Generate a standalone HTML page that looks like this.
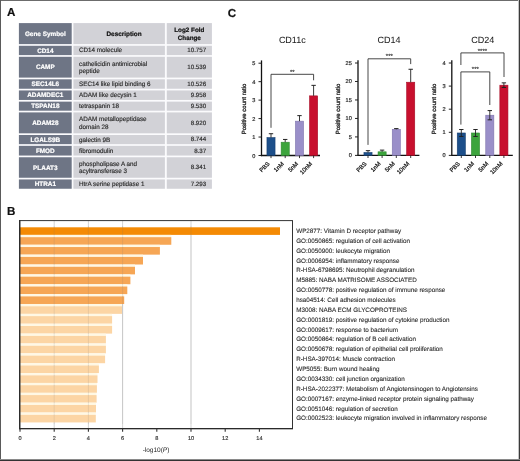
<!DOCTYPE html>
<html><head><meta charset="utf-8"><style>
html,body{margin:0;padding:0;background:#fff;}
body{width:520px;height:461px;overflow:hidden;position:relative;font-family:"Liberation Sans", sans-serif;}
svg{position:absolute;left:0;top:0;filter:blur(0.45px);}
svg text{font-family:"Liberation Sans", sans-serif;text-rendering:geometricPrecision;}
.frame{position:absolute;left:0;top:0;width:520px;height:461px;box-sizing:border-box;border:1px solid #555;border-bottom-width:1.5px;}
</style></head><body>
<svg width="520" height="461" viewBox="0 0 520 461">
<text x="6.9" y="16.3" font-size="11.6" text-anchor="start" font-weight="bold" fill="#111" stroke="#111" stroke-width="0.2" >A</text>
<text x="227.8" y="16.6" font-size="11.6" text-anchor="start" font-weight="bold" fill="#111" stroke="#111" stroke-width="0.2" >C</text>
<text x="6.9" y="214.7" font-size="11.6" text-anchor="start" font-weight="bold" fill="#111" stroke="#111" stroke-width="0.2" >B</text>
<rect x="18.90" y="23.10" width="193.00" height="165.65" fill="#fbfbfd" />
<rect x="18.90" y="23.10" width="52.80" height="21.00" fill="#6e7585" />
<rect x="73.40" y="23.10" width="91.50" height="21.00" fill="#d2d2d7" />
<rect x="166.80" y="23.10" width="45.10" height="21.00" fill="#d2d2d7" />
<text x="45.3" y="35.6" font-size="6.4" text-anchor="middle" font-weight="bold" fill="#fff" stroke="#fff" stroke-width="0.2" >Gene Symbol</text>
<text x="106.5" y="35.8" font-size="6.4" text-anchor="start" font-weight="bold" fill="#111" stroke="#111" stroke-width="0.2" >Description</text>
<text x="189.3" y="32.3" font-size="6.3" text-anchor="middle" font-weight="bold" fill="#111" stroke="#111" stroke-width="0.2" >Log2 Fold</text>
<text x="189.3" y="40.3" font-size="6.3" text-anchor="middle" font-weight="bold" fill="#111" stroke="#111" stroke-width="0.2" >Change</text>
<rect x="18.90" y="45.80" width="52.80" height="9.30" fill="#6e7585" />
<rect x="73.40" y="45.80" width="91.50" height="9.30" fill="#d2d2d7" />
<rect x="166.80" y="45.80" width="45.10" height="9.30" fill="#d2d2d7" />
<text x="45.3" y="52.650000000000006" font-size="6.4" text-anchor="middle" font-weight="bold" fill="#fff" stroke="#fff" stroke-width="0.2" >CD14</text>
<text x="79.0" y="52.45" font-size="6.3" text-anchor="start" font-weight="normal" fill="#2a2a2a" stroke="#2a2a2a" stroke-width="0.15" >CD14 molecule</text>
<text x="206.2" y="52.35" font-size="6.2" text-anchor="end" font-weight="normal" fill="#2a2a2a" stroke="#2a2a2a" stroke-width="0.15" >10.757</text>
<rect x="18.90" y="56.80" width="52.80" height="20.80" fill="#6e7585" />
<rect x="73.40" y="56.80" width="91.50" height="20.80" fill="#d2d2d7" />
<rect x="166.80" y="56.80" width="45.10" height="20.80" fill="#d2d2d7" />
<text x="45.3" y="69.4" font-size="6.4" text-anchor="middle" font-weight="bold" fill="#fff" stroke="#fff" stroke-width="0.2" >CAMP</text>
<text x="79.0" y="65.7" font-size="6.3" text-anchor="start" font-weight="normal" fill="#2a2a2a" stroke="#2a2a2a" stroke-width="0.15" >cathelicidin antimicrobial</text>
<text x="79.0" y="73.10000000000001" font-size="6.3" text-anchor="start" font-weight="normal" fill="#2a2a2a" stroke="#2a2a2a" stroke-width="0.15" >peptide</text>
<text x="206.2" y="69.10000000000001" font-size="6.2" text-anchor="end" font-weight="normal" fill="#2a2a2a" stroke="#2a2a2a" stroke-width="0.15" >10.539</text>
<rect x="18.90" y="79.30" width="52.80" height="9.45" fill="#6e7585" />
<rect x="73.40" y="79.30" width="91.50" height="9.45" fill="#d2d2d7" />
<rect x="166.80" y="79.30" width="45.10" height="9.45" fill="#d2d2d7" />
<text x="45.3" y="86.22500000000001" font-size="6.4" text-anchor="middle" font-weight="bold" fill="#fff" stroke="#fff" stroke-width="0.2" >SEC14L6</text>
<text x="79.0" y="86.025" font-size="6.3" text-anchor="start" font-weight="normal" fill="#2a2a2a" stroke="#2a2a2a" stroke-width="0.15" >SEC14 like lipid binding 6</text>
<text x="206.2" y="85.92500000000001" font-size="6.2" text-anchor="end" font-weight="normal" fill="#2a2a2a" stroke="#2a2a2a" stroke-width="0.15" >10.526</text>
<rect x="18.90" y="90.45" width="52.80" height="9.50" fill="#6e7585" />
<rect x="73.40" y="90.45" width="91.50" height="9.50" fill="#d2d2d7" />
<rect x="166.80" y="90.45" width="45.10" height="9.50" fill="#d2d2d7" />
<text x="45.3" y="97.39999999999999" font-size="6.4" text-anchor="middle" font-weight="bold" fill="#fff" stroke="#fff" stroke-width="0.2" >ADAMDEC1</text>
<text x="79.0" y="97.19999999999999" font-size="6.3" text-anchor="start" font-weight="normal" fill="#2a2a2a" stroke="#2a2a2a" stroke-width="0.15" >ADAM like decysin 1</text>
<text x="206.2" y="97.1" font-size="6.2" text-anchor="end" font-weight="normal" fill="#2a2a2a" stroke="#2a2a2a" stroke-width="0.15" >9.958</text>
<rect x="18.90" y="101.65" width="52.80" height="9.05" fill="#6e7585" />
<rect x="73.40" y="101.65" width="91.50" height="9.05" fill="#d2d2d7" />
<rect x="166.80" y="101.65" width="45.10" height="9.05" fill="#d2d2d7" />
<text x="45.3" y="108.375" font-size="6.4" text-anchor="middle" font-weight="bold" fill="#fff" stroke="#fff" stroke-width="0.2" >TSPAN18</text>
<text x="79.0" y="108.175" font-size="6.3" text-anchor="start" font-weight="normal" fill="#2a2a2a" stroke="#2a2a2a" stroke-width="0.15" >tetraspanin 18</text>
<text x="206.2" y="108.075" font-size="6.2" text-anchor="end" font-weight="normal" fill="#2a2a2a" stroke="#2a2a2a" stroke-width="0.15" >9.530</text>
<rect x="18.90" y="112.40" width="52.80" height="20.90" fill="#6e7585" />
<rect x="73.40" y="112.40" width="91.50" height="20.90" fill="#d2d2d7" />
<rect x="166.80" y="112.40" width="45.10" height="20.90" fill="#d2d2d7" />
<text x="45.3" y="125.05" font-size="6.4" text-anchor="middle" font-weight="bold" fill="#fff" stroke="#fff" stroke-width="0.2" >ADAM28</text>
<text x="79.0" y="121.35" font-size="6.3" text-anchor="start" font-weight="normal" fill="#2a2a2a" stroke="#2a2a2a" stroke-width="0.15" >ADAM metallopeptidase</text>
<text x="79.0" y="128.75" font-size="6.3" text-anchor="start" font-weight="normal" fill="#2a2a2a" stroke="#2a2a2a" stroke-width="0.15" >domain 28</text>
<text x="206.2" y="124.75" font-size="6.2" text-anchor="end" font-weight="normal" fill="#2a2a2a" stroke="#2a2a2a" stroke-width="0.15" >8.920</text>
<rect x="18.90" y="135.00" width="52.80" height="9.15" fill="#6e7585" />
<rect x="73.40" y="135.00" width="91.50" height="9.15" fill="#d2d2d7" />
<rect x="166.80" y="135.00" width="45.10" height="9.15" fill="#d2d2d7" />
<text x="45.3" y="141.77499999999998" font-size="6.4" text-anchor="middle" font-weight="bold" fill="#fff" stroke="#fff" stroke-width="0.2" >LGALS9B</text>
<text x="79.0" y="141.575" font-size="6.3" text-anchor="start" font-weight="normal" fill="#2a2a2a" stroke="#2a2a2a" stroke-width="0.15" >galectin 9B</text>
<text x="206.2" y="141.475" font-size="6.2" text-anchor="end" font-weight="normal" fill="#2a2a2a" stroke="#2a2a2a" stroke-width="0.15" >8.744</text>
<rect x="18.90" y="145.85" width="52.80" height="9.70" fill="#6e7585" />
<rect x="73.40" y="145.85" width="91.50" height="9.70" fill="#d2d2d7" />
<rect x="166.80" y="145.85" width="45.10" height="9.70" fill="#d2d2d7" />
<text x="45.3" y="152.89999999999998" font-size="6.4" text-anchor="middle" font-weight="bold" fill="#fff" stroke="#fff" stroke-width="0.2" >FMOD</text>
<text x="79.0" y="152.7" font-size="6.3" text-anchor="start" font-weight="normal" fill="#2a2a2a" stroke="#2a2a2a" stroke-width="0.15" >fibromodulin</text>
<text x="206.2" y="152.6" font-size="6.2" text-anchor="end" font-weight="normal" fill="#2a2a2a" stroke="#2a2a2a" stroke-width="0.15" >8.37</text>
<rect x="18.90" y="157.25" width="52.80" height="20.50" fill="#6e7585" />
<rect x="73.40" y="157.25" width="91.50" height="20.50" fill="#d2d2d7" />
<rect x="166.80" y="157.25" width="45.10" height="20.50" fill="#d2d2d7" />
<text x="45.3" y="169.7" font-size="6.4" text-anchor="middle" font-weight="bold" fill="#fff" stroke="#fff" stroke-width="0.2" >PLAAT3</text>
<text x="79.0" y="166.0" font-size="6.3" text-anchor="start" font-weight="normal" fill="#2a2a2a" stroke="#2a2a2a" stroke-width="0.15" >phospholipase A and</text>
<text x="79.0" y="173.4" font-size="6.3" text-anchor="start" font-weight="normal" fill="#2a2a2a" stroke="#2a2a2a" stroke-width="0.15" >acyltransferase 3</text>
<text x="206.2" y="169.4" font-size="6.2" text-anchor="end" font-weight="normal" fill="#2a2a2a" stroke="#2a2a2a" stroke-width="0.15" >8.341</text>
<rect x="18.90" y="179.45" width="52.80" height="9.30" fill="#6e7585" />
<rect x="73.40" y="179.45" width="91.50" height="9.30" fill="#d2d2d7" />
<rect x="166.80" y="179.45" width="45.10" height="9.30" fill="#d2d2d7" />
<text x="45.3" y="186.29999999999998" font-size="6.4" text-anchor="middle" font-weight="bold" fill="#fff" stroke="#fff" stroke-width="0.2" >HTRA1</text>
<text x="79.0" y="186.1" font-size="6.3" text-anchor="start" font-weight="normal" fill="#2a2a2a" stroke="#2a2a2a" stroke-width="0.15" >HtrA serine peptidase 1</text>
<text x="206.2" y="186.0" font-size="6.2" text-anchor="end" font-weight="normal" fill="#2a2a2a" stroke="#2a2a2a" stroke-width="0.15" >7.293</text>
<text x="292.3" y="43.2" font-size="9.0" text-anchor="middle" font-weight="normal" fill="#222" stroke="#222" stroke-width="0.05" >CD11c</text>
<line x1="261.50" y1="60.40" x2="261.50" y2="156.15" stroke="#111" stroke-width="1.3" />
<line x1="260.85" y1="155.50" x2="320.00" y2="155.50" stroke="#111" stroke-width="1.3" />
<line x1="258.50" y1="155.50" x2="261.50" y2="155.50" stroke="#222" stroke-width="1.0" />
<text x="255.3" y="157.5" font-size="5.6" text-anchor="end" font-weight="normal" fill="#333" stroke="#333" stroke-width="0.22" >0</text>
<line x1="258.50" y1="137.04" x2="261.50" y2="137.04" stroke="#222" stroke-width="1.0" />
<text x="255.3" y="139.04" font-size="5.6" text-anchor="end" font-weight="normal" fill="#333" stroke="#333" stroke-width="0.22" >1</text>
<line x1="258.50" y1="118.58" x2="261.50" y2="118.58" stroke="#222" stroke-width="1.0" />
<text x="255.3" y="120.58" font-size="5.6" text-anchor="end" font-weight="normal" fill="#333" stroke="#333" stroke-width="0.22" >2</text>
<line x1="258.50" y1="100.12" x2="261.50" y2="100.12" stroke="#222" stroke-width="1.0" />
<text x="255.3" y="102.12" font-size="5.6" text-anchor="end" font-weight="normal" fill="#333" stroke="#333" stroke-width="0.22" >3</text>
<line x1="258.50" y1="81.66" x2="261.50" y2="81.66" stroke="#222" stroke-width="1.0" />
<text x="255.3" y="83.66" font-size="5.6" text-anchor="end" font-weight="normal" fill="#333" stroke="#333" stroke-width="0.22" >4</text>
<line x1="258.50" y1="63.20" x2="261.50" y2="63.20" stroke="#222" stroke-width="1.0" />
<text x="255.3" y="65.19999999999999" font-size="5.6" text-anchor="end" font-weight="normal" fill="#333" stroke="#333" stroke-width="0.22" >5</text>
<text x="0" y="0" font-size="6.0" text-anchor="middle" font-weight="normal" fill="#222" stroke="#222" stroke-width="0.3" transform="translate(245.90,109.0) rotate(-90)">Positive count ratio</text>
<rect x="266.95" y="137.59" width="8.10" height="17.91" fill="#1d4f8a" stroke="#173f70" stroke-width="0.6"/>
<line x1="271.00" y1="133.72" x2="271.00" y2="137.59" stroke="#222" stroke-width="0.9" />
<line x1="268.80" y1="133.72" x2="273.20" y2="133.72" stroke="#222" stroke-width="1.0" />
<line x1="271.00" y1="155.50" x2="271.00" y2="158.10" stroke="#222" stroke-width="0.9" />
<text x="0" y="0" font-size="5.9" text-anchor="end" font-weight="normal" fill="#222" stroke="#222" stroke-width="0.25" transform="translate(270.00,164.20) rotate(-45)">PBS</text>
<rect x="281.15" y="142.21" width="8.10" height="13.29" fill="#3ca43c" stroke="#2f8a30" stroke-width="0.6"/>
<line x1="285.20" y1="139.44" x2="285.20" y2="142.21" stroke="#222" stroke-width="0.9" />
<line x1="283.00" y1="139.44" x2="287.40" y2="139.44" stroke="#222" stroke-width="1.0" />
<line x1="285.20" y1="155.50" x2="285.20" y2="158.10" stroke="#222" stroke-width="0.9" />
<text x="0" y="0" font-size="5.9" text-anchor="end" font-weight="normal" fill="#222" stroke="#222" stroke-width="0.25" transform="translate(284.20,164.20) rotate(-45)">1nM</text>
<rect x="295.45" y="121.16" width="8.10" height="34.34" fill="#9a8fc9" stroke="#7f74ad" stroke-width="0.6"/>
<line x1="299.50" y1="115.63" x2="299.50" y2="121.16" stroke="#222" stroke-width="0.9" />
<line x1="297.30" y1="115.63" x2="301.70" y2="115.63" stroke="#222" stroke-width="1.0" />
<line x1="299.50" y1="155.50" x2="299.50" y2="158.10" stroke="#222" stroke-width="0.9" />
<text x="0" y="0" font-size="5.9" text-anchor="end" font-weight="normal" fill="#222" stroke="#222" stroke-width="0.25" transform="translate(298.50,164.20) rotate(-45)">5nM</text>
<rect x="309.55" y="95.87" width="8.10" height="59.63" fill="#c8102e" stroke="#a80d26" stroke-width="0.6"/>
<line x1="313.60" y1="85.35" x2="313.60" y2="95.87" stroke="#222" stroke-width="0.9" />
<line x1="311.40" y1="85.35" x2="315.80" y2="85.35" stroke="#222" stroke-width="1.0" />
<line x1="313.60" y1="155.50" x2="313.60" y2="158.10" stroke="#222" stroke-width="0.9" />
<text x="0" y="0" font-size="5.9" text-anchor="end" font-weight="normal" fill="#222" stroke="#222" stroke-width="0.25" transform="translate(312.60,164.20) rotate(-45)">10nM</text>
<polyline points="271.00,127.80 271.00,74.30 313.60,74.30 313.60,80.30" fill="none" stroke="#333" stroke-width="0.9"/>
<text x="292.3" y="73.8" font-size="6.0" text-anchor="middle" font-weight="normal" fill="#333" stroke="#333" stroke-width="0.15" >**</text>
<text x="389.0" y="43.2" font-size="9.0" text-anchor="middle" font-weight="normal" fill="#222" stroke="#222" stroke-width="0.05" >CD14</text>
<line x1="358.00" y1="60.20" x2="358.00" y2="156.05" stroke="#111" stroke-width="1.3" />
<line x1="357.35" y1="155.40" x2="419.40" y2="155.40" stroke="#111" stroke-width="1.3" />
<line x1="355.00" y1="155.40" x2="358.00" y2="155.40" stroke="#222" stroke-width="1.0" />
<text x="351.8" y="157.4" font-size="5.6" text-anchor="end" font-weight="normal" fill="#333" stroke="#333" stroke-width="0.22" >0</text>
<line x1="355.00" y1="136.92" x2="358.00" y2="136.92" stroke="#222" stroke-width="1.0" />
<text x="351.8" y="138.92000000000002" font-size="5.6" text-anchor="end" font-weight="normal" fill="#333" stroke="#333" stroke-width="0.22" >5</text>
<line x1="355.00" y1="118.44" x2="358.00" y2="118.44" stroke="#222" stroke-width="1.0" />
<text x="351.8" y="120.44" font-size="5.6" text-anchor="end" font-weight="normal" fill="#333" stroke="#333" stroke-width="0.22" >10</text>
<line x1="355.00" y1="99.96" x2="358.00" y2="99.96" stroke="#222" stroke-width="1.0" />
<text x="351.8" y="101.96000000000001" font-size="5.6" text-anchor="end" font-weight="normal" fill="#333" stroke="#333" stroke-width="0.22" >15</text>
<line x1="355.00" y1="81.48" x2="358.00" y2="81.48" stroke="#222" stroke-width="1.0" />
<text x="351.8" y="83.48" font-size="5.6" text-anchor="end" font-weight="normal" fill="#333" stroke="#333" stroke-width="0.22" >20</text>
<line x1="355.00" y1="63.00" x2="358.00" y2="63.00" stroke="#222" stroke-width="1.0" />
<text x="351.8" y="65.0" font-size="5.6" text-anchor="end" font-weight="normal" fill="#333" stroke="#333" stroke-width="0.22" >25</text>
<text x="0" y="0" font-size="6.0" text-anchor="middle" font-weight="normal" fill="#222" stroke="#222" stroke-width="0.3" transform="translate(339.60,109.0) rotate(-90)">Positive count ratio</text>
<rect x="363.95" y="152.52" width="8.10" height="2.88" fill="#1d4f8a" stroke="#173f70" stroke-width="0.6"/>
<line x1="368.00" y1="150.67" x2="368.00" y2="152.52" stroke="#222" stroke-width="0.9" />
<line x1="365.80" y1="150.67" x2="370.20" y2="150.67" stroke="#222" stroke-width="1.0" />
<line x1="368.00" y1="155.40" x2="368.00" y2="158.00" stroke="#222" stroke-width="0.9" />
<text x="0" y="0" font-size="5.9" text-anchor="end" font-weight="normal" fill="#222" stroke="#222" stroke-width="0.25" transform="translate(367.00,164.10) rotate(-45)">PBS</text>
<rect x="378.05" y="151.81" width="8.10" height="3.59" fill="#3ca43c" stroke="#2f8a30" stroke-width="0.6"/>
<line x1="382.10" y1="150.11" x2="382.10" y2="151.81" stroke="#222" stroke-width="0.9" />
<line x1="379.90" y1="150.11" x2="384.30" y2="150.11" stroke="#222" stroke-width="1.0" />
<line x1="382.10" y1="155.40" x2="382.10" y2="158.00" stroke="#222" stroke-width="0.9" />
<text x="0" y="0" font-size="5.9" text-anchor="end" font-weight="normal" fill="#222" stroke="#222" stroke-width="0.25" transform="translate(381.10,164.10) rotate(-45)">1nM</text>
<rect x="392.25" y="129.34" width="8.10" height="26.06" fill="#9a8fc9" stroke="#7f74ad" stroke-width="0.6"/>
<line x1="396.30" y1="128.60" x2="396.30" y2="129.34" stroke="#222" stroke-width="0.9" />
<line x1="394.10" y1="128.60" x2="398.50" y2="128.60" stroke="#222" stroke-width="1.0" />
<line x1="396.30" y1="155.40" x2="396.30" y2="158.00" stroke="#222" stroke-width="0.9" />
<text x="0" y="0" font-size="5.9" text-anchor="end" font-weight="normal" fill="#222" stroke="#222" stroke-width="0.25" transform="translate(395.30,164.10) rotate(-45)">5nM</text>
<rect x="406.65" y="82.22" width="8.10" height="73.18" fill="#c8102e" stroke="#a80d26" stroke-width="0.6"/>
<line x1="410.70" y1="69.28" x2="410.70" y2="82.22" stroke="#222" stroke-width="0.9" />
<line x1="408.50" y1="69.28" x2="412.90" y2="69.28" stroke="#222" stroke-width="1.0" />
<line x1="410.70" y1="155.40" x2="410.70" y2="158.00" stroke="#222" stroke-width="0.9" />
<text x="0" y="0" font-size="5.9" text-anchor="end" font-weight="normal" fill="#222" stroke="#222" stroke-width="0.25" transform="translate(409.70,164.10) rotate(-45)">10nM</text>
<polyline points="368.00,144.90 368.00,58.80 410.70,58.80 410.70,64.10" fill="none" stroke="#333" stroke-width="0.9"/>
<text x="389.35" y="58.3" font-size="6.0" text-anchor="middle" font-weight="normal" fill="#333" stroke="#333" stroke-width="0.15" >***</text>
<text x="482.7" y="43.2" font-size="9.0" text-anchor="middle" font-weight="normal" fill="#222" stroke="#222" stroke-width="0.05" >CD24</text>
<line x1="451.80" y1="60.20" x2="451.80" y2="156.05" stroke="#111" stroke-width="1.3" />
<line x1="451.15" y1="155.40" x2="512.80" y2="155.40" stroke="#111" stroke-width="1.3" />
<line x1="448.80" y1="155.40" x2="451.80" y2="155.40" stroke="#222" stroke-width="1.0" />
<text x="445.6" y="157.4" font-size="5.6" text-anchor="end" font-weight="normal" fill="#333" stroke="#333" stroke-width="0.22" >0</text>
<line x1="448.80" y1="132.30" x2="451.80" y2="132.30" stroke="#222" stroke-width="1.0" />
<text x="445.6" y="134.3" font-size="5.6" text-anchor="end" font-weight="normal" fill="#333" stroke="#333" stroke-width="0.22" >1</text>
<line x1="448.80" y1="109.20" x2="451.80" y2="109.20" stroke="#222" stroke-width="1.0" />
<text x="445.6" y="111.2" font-size="5.6" text-anchor="end" font-weight="normal" fill="#333" stroke="#333" stroke-width="0.22" >2</text>
<line x1="448.80" y1="86.10" x2="451.80" y2="86.10" stroke="#222" stroke-width="1.0" />
<text x="445.6" y="88.1" font-size="5.6" text-anchor="end" font-weight="normal" fill="#333" stroke="#333" stroke-width="0.22" >3</text>
<line x1="448.80" y1="63.00" x2="451.80" y2="63.00" stroke="#222" stroke-width="1.0" />
<text x="445.6" y="65.0" font-size="5.6" text-anchor="end" font-weight="normal" fill="#333" stroke="#333" stroke-width="0.22" >4</text>
<text x="0" y="0" font-size="6.0" text-anchor="middle" font-weight="normal" fill="#222" stroke="#222" stroke-width="0.3" transform="translate(435.60,109.0) rotate(-90)">Positive count ratio</text>
<rect x="457.25" y="132.99" width="8.10" height="22.41" fill="#1d4f8a" stroke="#173f70" stroke-width="0.6"/>
<line x1="461.30" y1="129.53" x2="461.30" y2="136.46" stroke="#222" stroke-width="0.9" />
<line x1="459.10" y1="129.53" x2="463.50" y2="129.53" stroke="#222" stroke-width="1.0" />
<line x1="459.10" y1="136.46" x2="463.50" y2="136.46" stroke="#222" stroke-width="1.0" />
<line x1="461.30" y1="155.40" x2="461.30" y2="158.00" stroke="#222" stroke-width="0.9" />
<text x="0" y="0" font-size="5.9" text-anchor="end" font-weight="normal" fill="#222" stroke="#222" stroke-width="0.25" transform="translate(460.30,164.10) rotate(-45)">PBS</text>
<rect x="471.45" y="132.99" width="8.10" height="22.41" fill="#3ca43c" stroke="#2f8a30" stroke-width="0.6"/>
<line x1="475.50" y1="129.53" x2="475.50" y2="136.46" stroke="#222" stroke-width="0.9" />
<line x1="473.30" y1="129.53" x2="477.70" y2="129.53" stroke="#222" stroke-width="1.0" />
<line x1="473.30" y1="136.46" x2="477.70" y2="136.46" stroke="#222" stroke-width="1.0" />
<line x1="475.50" y1="155.40" x2="475.50" y2="158.00" stroke="#222" stroke-width="0.9" />
<text x="0" y="0" font-size="5.9" text-anchor="end" font-weight="normal" fill="#222" stroke="#222" stroke-width="0.25" transform="translate(474.50,164.10) rotate(-45)">1nM</text>
<rect x="485.75" y="115.21" width="8.10" height="40.19" fill="#9a8fc9" stroke="#7f74ad" stroke-width="0.6"/>
<line x1="489.80" y1="110.59" x2="489.80" y2="119.83" stroke="#222" stroke-width="0.9" />
<line x1="487.60" y1="110.59" x2="492.00" y2="110.59" stroke="#222" stroke-width="1.0" />
<line x1="487.60" y1="119.83" x2="492.00" y2="119.83" stroke="#222" stroke-width="1.0" />
<line x1="489.80" y1="155.40" x2="489.80" y2="158.00" stroke="#222" stroke-width="0.9" />
<text x="0" y="0" font-size="5.9" text-anchor="end" font-weight="normal" fill="#222" stroke="#222" stroke-width="0.25" transform="translate(488.80,164.10) rotate(-45)">5nM</text>
<rect x="499.85" y="85.18" width="8.10" height="70.22" fill="#c8102e" stroke="#a80d26" stroke-width="0.6"/>
<line x1="503.90" y1="82.87" x2="503.90" y2="87.49" stroke="#222" stroke-width="0.9" />
<line x1="501.70" y1="82.87" x2="506.10" y2="82.87" stroke="#222" stroke-width="1.0" />
<line x1="501.70" y1="87.49" x2="506.10" y2="87.49" stroke="#222" stroke-width="1.0" />
<line x1="503.90" y1="155.40" x2="503.90" y2="158.00" stroke="#222" stroke-width="0.9" />
<text x="0" y="0" font-size="5.9" text-anchor="end" font-weight="normal" fill="#222" stroke="#222" stroke-width="0.25" transform="translate(502.90,164.10) rotate(-45)">10nM</text>
<polyline points="460.90,65.00 460.90,52.90 504.00,52.90 504.00,77.00" fill="none" stroke="#333" stroke-width="0.9"/>
<text x="482.45" y="53.0" font-size="6.0" text-anchor="middle" font-weight="normal" fill="#333" stroke="#333" stroke-width="0.15" >****</text>
<polyline points="460.90,124.60 460.90,71.90 489.80,71.90 489.80,105.00" fill="none" stroke="#333" stroke-width="0.9"/>
<text x="475.35" y="71.4" font-size="6.0" text-anchor="middle" font-weight="normal" fill="#333" stroke="#333" stroke-width="0.15" >***</text>
<line x1="54.20" y1="220.60" x2="54.20" y2="428.60" stroke="#c8c8c8" stroke-width="0.8" />
<line x1="88.40" y1="220.60" x2="88.40" y2="428.60" stroke="#c8c8c8" stroke-width="0.8" />
<line x1="122.60" y1="220.60" x2="122.60" y2="428.60" stroke="#c8c8c8" stroke-width="0.8" />
<line x1="191.00" y1="220.60" x2="191.00" y2="428.60" stroke="#c8c8c8" stroke-width="0.8" />
<rect x="20.00" y="227.30" width="260.00" height="7.60" fill="#f48a04" />
<rect x="20.00" y="234.90" width="151.30" height="2.27" fill="#fff8e4" />
<text x="296.2" y="232.9" font-size="6.3" text-anchor="start" font-weight="normal" fill="#2a2a2a" stroke="#2a2a2a" stroke-width="0.1" >WP2877: Vitamin D receptor pathway</text>
<rect x="20.00" y="237.17" width="151.30" height="7.60" fill="#f6a655" />
<rect x="20.00" y="244.77" width="139.90" height="2.27" fill="#fff8e4" />
<text x="296.2" y="242.77" font-size="6.3" text-anchor="start" font-weight="normal" fill="#2a2a2a" stroke="#2a2a2a" stroke-width="0.1" >GO:0050865: regulation of cell activation</text>
<rect x="20.00" y="247.04" width="139.90" height="7.60" fill="#f6a655" />
<rect x="20.00" y="254.64" width="123.00" height="2.27" fill="#fff8e4" />
<text x="296.2" y="252.64000000000001" font-size="6.3" text-anchor="start" font-weight="normal" fill="#2a2a2a" stroke="#2a2a2a" stroke-width="0.1" >GO:0050900: leukocyte migration</text>
<rect x="20.00" y="256.91" width="123.00" height="7.60" fill="#f6a655" />
<rect x="20.00" y="264.51" width="115.00" height="2.27" fill="#fff8e4" />
<text x="296.2" y="262.51000000000005" font-size="6.3" text-anchor="start" font-weight="normal" fill="#2a2a2a" stroke="#2a2a2a" stroke-width="0.1" >GO:0006954: inflammatory response</text>
<rect x="20.00" y="266.78" width="115.00" height="7.60" fill="#f6a655" />
<rect x="20.00" y="274.38" width="110.40" height="2.27" fill="#fff8e4" />
<text x="296.2" y="272.38000000000005" font-size="6.3" text-anchor="start" font-weight="normal" fill="#2a2a2a" stroke="#2a2a2a" stroke-width="0.1" >R-HSA-6798695: Neutrophil degranulation</text>
<rect x="20.00" y="276.65" width="110.40" height="7.60" fill="#f6a655" />
<rect x="20.00" y="284.25" width="107.30" height="2.27" fill="#fff8e4" />
<text x="296.2" y="282.25" font-size="6.3" text-anchor="start" font-weight="normal" fill="#2a2a2a" stroke="#2a2a2a" stroke-width="0.1" >M5885: NABA MATRISOME ASSOCIATED</text>
<rect x="20.00" y="286.52" width="107.30" height="7.60" fill="#f6a655" />
<rect x="20.00" y="294.12" width="104.20" height="2.27" fill="#fff8e4" />
<text x="296.2" y="292.12" font-size="6.3" text-anchor="start" font-weight="normal" fill="#2a2a2a" stroke="#2a2a2a" stroke-width="0.1" >GO:0050778: positive regulation of immune response</text>
<rect x="20.00" y="296.39" width="104.20" height="7.60" fill="#f6a655" />
<rect x="20.00" y="303.99" width="102.00" height="2.27" fill="#fff8e4" />
<text x="296.2" y="301.99" font-size="6.3" text-anchor="start" font-weight="normal" fill="#2a2a2a" stroke="#2a2a2a" stroke-width="0.1" >hsa04514: Cell adhesion molecules</text>
<rect x="20.00" y="306.26" width="102.00" height="7.60" fill="#fcd5a4" />
<rect x="20.00" y="313.86" width="92.10" height="2.27" fill="#fff8e4" />
<text x="296.2" y="311.86" font-size="6.3" text-anchor="start" font-weight="normal" fill="#2a2a2a" stroke="#2a2a2a" stroke-width="0.1" >M3008: NABA ECM GLYCOPROTEINS</text>
<rect x="20.00" y="316.13" width="92.10" height="7.60" fill="#fcd5a4" />
<rect x="20.00" y="323.73" width="92.10" height="2.27" fill="#fff8e4" />
<text x="296.2" y="321.73" font-size="6.3" text-anchor="start" font-weight="normal" fill="#2a2a2a" stroke="#2a2a2a" stroke-width="0.1" >GO:0001819: positive regulation of cytokine production</text>
<rect x="20.00" y="326.00" width="92.10" height="7.60" fill="#fcd5a4" />
<rect x="20.00" y="333.60" width="85.90" height="2.27" fill="#fff8e4" />
<text x="296.2" y="331.6" font-size="6.3" text-anchor="start" font-weight="normal" fill="#2a2a2a" stroke="#2a2a2a" stroke-width="0.1" >GO:0009617: response to bacterium</text>
<rect x="20.00" y="335.87" width="85.90" height="7.60" fill="#fcd5a4" />
<rect x="20.00" y="343.47" width="85.90" height="2.27" fill="#fff8e4" />
<text x="296.2" y="341.47" font-size="6.3" text-anchor="start" font-weight="normal" fill="#2a2a2a" stroke="#2a2a2a" stroke-width="0.1" >GO:0050864: regulation of B cell activation</text>
<rect x="20.00" y="345.74" width="85.90" height="7.60" fill="#fcd5a4" />
<rect x="20.00" y="353.34" width="85.10" height="2.27" fill="#fff8e4" />
<text x="296.2" y="351.34000000000003" font-size="6.3" text-anchor="start" font-weight="normal" fill="#2a2a2a" stroke="#2a2a2a" stroke-width="0.1" >GO:0050678: regulation of epithelial cell proliferation</text>
<rect x="20.00" y="355.61" width="85.10" height="7.60" fill="#fcd5a4" />
<rect x="20.00" y="363.21" width="78.90" height="2.27" fill="#fff8e4" />
<text x="296.2" y="361.21000000000004" font-size="6.3" text-anchor="start" font-weight="normal" fill="#2a2a2a" stroke="#2a2a2a" stroke-width="0.1" >R-HSA-397014: Muscle contraction</text>
<rect x="20.00" y="365.48" width="78.90" height="7.60" fill="#fcd5a4" />
<rect x="20.00" y="373.08" width="77.50" height="2.27" fill="#fff8e4" />
<text x="296.2" y="371.08000000000004" font-size="6.3" text-anchor="start" font-weight="normal" fill="#2a2a2a" stroke="#2a2a2a" stroke-width="0.1" >WP5055: Burn wound healing</text>
<rect x="20.00" y="375.35" width="77.50" height="7.60" fill="#fcd5a4" />
<rect x="20.00" y="382.95" width="76.90" height="2.27" fill="#fff8e4" />
<text x="296.2" y="380.95000000000005" font-size="6.3" text-anchor="start" font-weight="normal" fill="#2a2a2a" stroke="#2a2a2a" stroke-width="0.1" >GO:0034330: cell junction organization</text>
<rect x="20.00" y="385.22" width="76.90" height="7.60" fill="#fcd5a4" />
<rect x="20.00" y="392.82" width="76.60" height="2.27" fill="#fff8e4" />
<text x="296.2" y="390.82000000000005" font-size="6.3" text-anchor="start" font-weight="normal" fill="#2a2a2a" stroke="#2a2a2a" stroke-width="0.1" >R-HSA-2022377: Metabolism of Angiotensinogen to Angiotensins</text>
<rect x="20.00" y="395.09" width="76.60" height="7.60" fill="#fcd5a4" />
<rect x="20.00" y="402.69" width="76.00" height="2.27" fill="#fff8e4" />
<text x="296.2" y="400.69000000000005" font-size="6.3" text-anchor="start" font-weight="normal" fill="#2a2a2a" stroke="#2a2a2a" stroke-width="0.1" >GO:0007167: enzyme-linked receptor protein signaling pathway</text>
<rect x="20.00" y="404.96" width="76.00" height="7.60" fill="#fcd5a4" />
<rect x="20.00" y="412.56" width="75.80" height="2.27" fill="#fff8e4" />
<text x="296.2" y="410.56000000000006" font-size="6.3" text-anchor="start" font-weight="normal" fill="#2a2a2a" stroke="#2a2a2a" stroke-width="0.1" >GO:0051046: regulation of secretion</text>
<rect x="20.00" y="414.83" width="75.80" height="7.60" fill="#fcd5a4" />
<text x="296.2" y="420.43" font-size="6.3" text-anchor="start" font-weight="normal" fill="#2a2a2a" stroke="#2a2a2a" stroke-width="0.1" >GO:0002523: leukocyte migration involved in inflammatory response</text>
<line x1="54.20" y1="226.00" x2="54.20" y2="424.00" stroke="rgba(110,110,110,0.18)" stroke-width="0.8" />
<line x1="88.40" y1="226.00" x2="88.40" y2="424.00" stroke="rgba(110,110,110,0.18)" stroke-width="0.8" />
<line x1="122.60" y1="226.00" x2="122.60" y2="424.00" stroke="rgba(110,110,110,0.18)" stroke-width="0.8" />
<line x1="191.00" y1="226.00" x2="191.00" y2="424.00" stroke="rgba(110,110,110,0.18)" stroke-width="0.8" />
<rect x="19.7" y="220.6" width="272.8" height="208.00000000000003" fill="none" stroke="#333" stroke-width="1"/>
<line x1="19.70" y1="220.10" x2="19.70" y2="429.20" stroke="#2a2a2a" stroke-width="1.3" />
<line x1="19.10" y1="428.60" x2="293.00" y2="428.60" stroke="#2a2a2a" stroke-width="1.3" />
<line x1="20.00" y1="428.60" x2="20.00" y2="431.80" stroke="#333" stroke-width="1.1" />
<text x="20.0" y="440.2" font-size="5.6" text-anchor="middle" font-weight="normal" fill="#333" stroke="#333" stroke-width="0.15" >0</text>
<line x1="54.20" y1="428.60" x2="54.20" y2="431.80" stroke="#333" stroke-width="1.1" />
<text x="54.2" y="440.2" font-size="5.6" text-anchor="middle" font-weight="normal" fill="#333" stroke="#333" stroke-width="0.15" >2</text>
<line x1="88.40" y1="428.60" x2="88.40" y2="431.80" stroke="#333" stroke-width="1.1" />
<text x="88.4" y="440.2" font-size="5.6" text-anchor="middle" font-weight="normal" fill="#333" stroke="#333" stroke-width="0.15" >4</text>
<line x1="122.60" y1="428.60" x2="122.60" y2="431.80" stroke="#333" stroke-width="1.1" />
<text x="122.60000000000001" y="440.2" font-size="5.6" text-anchor="middle" font-weight="normal" fill="#333" stroke="#333" stroke-width="0.15" >6</text>
<line x1="156.80" y1="428.60" x2="156.80" y2="431.80" stroke="#333" stroke-width="1.1" />
<text x="156.8" y="440.2" font-size="5.6" text-anchor="middle" font-weight="normal" fill="#333" stroke="#333" stroke-width="0.15" >8</text>
<line x1="191.00" y1="428.60" x2="191.00" y2="431.80" stroke="#333" stroke-width="1.1" />
<text x="191.0" y="440.2" font-size="5.6" text-anchor="middle" font-weight="normal" fill="#333" stroke="#333" stroke-width="0.15" >10</text>
<line x1="225.20" y1="428.60" x2="225.20" y2="431.80" stroke="#333" stroke-width="1.1" />
<text x="225.20000000000002" y="440.2" font-size="5.6" text-anchor="middle" font-weight="normal" fill="#333" stroke="#333" stroke-width="0.15" >12</text>
<line x1="259.40" y1="428.60" x2="259.40" y2="431.80" stroke="#333" stroke-width="1.1" />
<text x="259.40000000000003" y="440.2" font-size="5.6" text-anchor="middle" font-weight="normal" fill="#333" stroke="#333" stroke-width="0.15" >14</text>
<text x="156" y="452.3" font-size="6.5" text-anchor="middle" fill="#222">-log10(<tspan font-style="italic">P</tspan>)</text>
</svg>
<div style="position:absolute;left:0;top:0;width:520px;height:1px;background:#6c6c6c"></div>
<div style="position:absolute;left:0;top:0;width:1px;height:461px;background:#5a5a5a"></div>
<div style="position:absolute;left:518px;top:0;width:1px;height:461px;background:#c4c4c4"></div>
<div style="position:absolute;left:519px;top:0;width:1px;height:461px;background:#3a3a3a"></div>
<div style="position:absolute;left:0;top:459px;width:520px;height:1px;background:#8a8a8a"></div>
<div style="position:absolute;left:0;top:460px;width:520px;height:1px;background:#333"></div>
</body></html>
